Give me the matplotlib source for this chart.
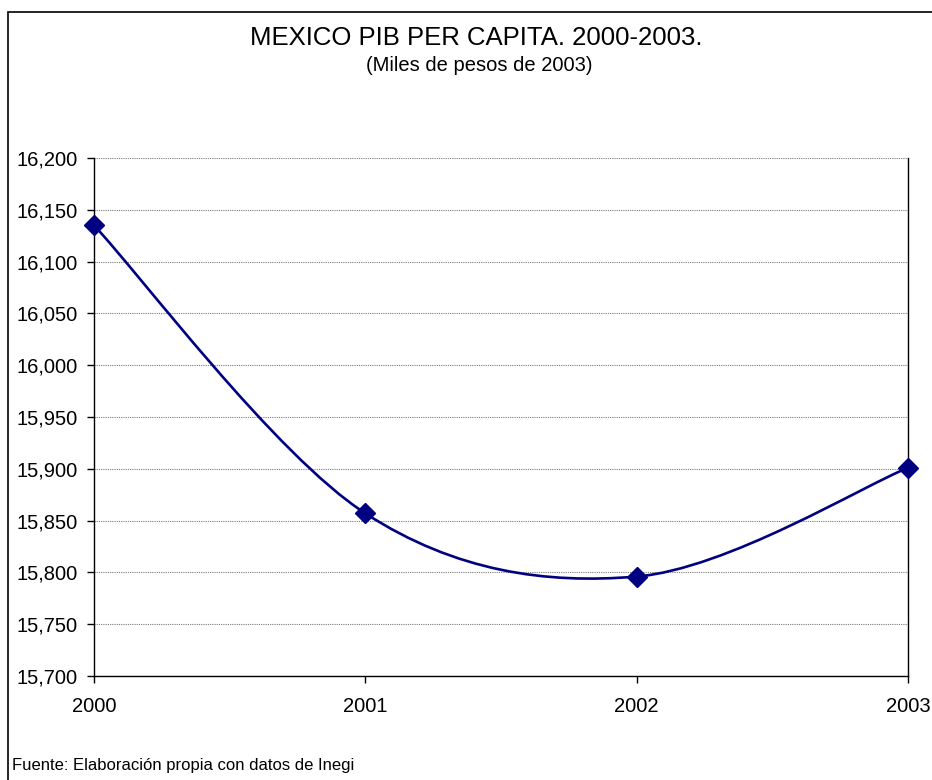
import matplotlib
matplotlib.use("Agg")
import matplotlib.pyplot as plt
from matplotlib.patches import Rectangle, PathPatch
from matplotlib.path import Path
from matplotlib.ticker import FuncFormatter

plt.rcParams["font.family"] = ["Liberation Sans", "DejaVu Sans"]

# data
years = [2000, 2001, 2002, 2003]
pib = [16135, 15857, 15796, 15901]

NAVY = "#000080"

fig = plt.figure(figsize=(9.32, 7.80), dpi=100)
ax = fig.add_axes([0.1009, 0.1333, 0.8733, 0.6641])

# smoothed line (Excel-like: Catmull-Rom as cubic bezier)
pts = list(zip(years, pib))
ext = [pts[0]] + pts + [pts[-1]]
verts = [pts[0]]; codes = [Path.MOVETO]
for i in range(1, len(ext) - 2):
    p0, p1, p2, p3 = ext[i - 1], ext[i], ext[i + 1], ext[i + 2]
    c1 = (p1[0] + (p2[0] - p0[0]) / 6, p1[1] + (p2[1] - p0[1]) / 6)
    c2 = (p2[0] - (p3[0] - p1[0]) / 6, p2[1] - (p3[1] - p1[1]) / 6)
    verts += [c1, c2, p2]; codes += [Path.CURVE4] * 3
ax.add_patch(PathPatch(Path(verts, codes), fc="none", ec=NAVY, lw=1.9, zorder=3))
ax.plot(years, pib, ls="none", marker="D", ms=10.5, color=NAVY, zorder=4, clip_on=False)

ax.set_xlim(2000, 2003)
ax.set_ylim(15700, 16200)
ax.set_xticks(years)
ax.set_xticklabels([str(y) for y in years])
ax.set_yticks(range(15700, 16201, 50))
ax.yaxis.set_major_formatter(FuncFormatter(lambda v, p: f"{int(v):,}"))
ax.tick_params(axis="both", labelsize=14.5, length=5, width=1, direction="out", colors="black")
ax.tick_params(axis="x", pad=10)
ax.tick_params(axis="y", pad=7)
ax.grid(axis="y", color="#7a7a7a", lw=0.8, ls=(0, (1, 1)))
ax.set_axisbelow(True)
ax.spines["top"].set_visible(False)
for s in ("left", "bottom", "right"):
    ax.spines[s].set_color("black")
    ax.spines[s].set_linewidth(1)

# titles
fig.text(0.511, 0.951, "MEXICO PIB PER CAPITA. 2000-2003.", ha="center", va="center", fontsize=18.5)
fig.text(0.514, 0.916, "(Miles de pesos de 2003)", ha="center", va="center", fontsize=14.5)
fig.text(0.013, 0.019, "Fuente: Elaboración propia con datos de Inegi", ha="left", va="center", fontsize=12)

# outer border
fig.patches.append(Rectangle((8 / 932, -0.1), 1.2, 1.1 - 12 / 780, transform=fig.transFigure,
                             fill=False, ec="black", lw=1.2))

fig.savefig("out.png", dpi=100)
